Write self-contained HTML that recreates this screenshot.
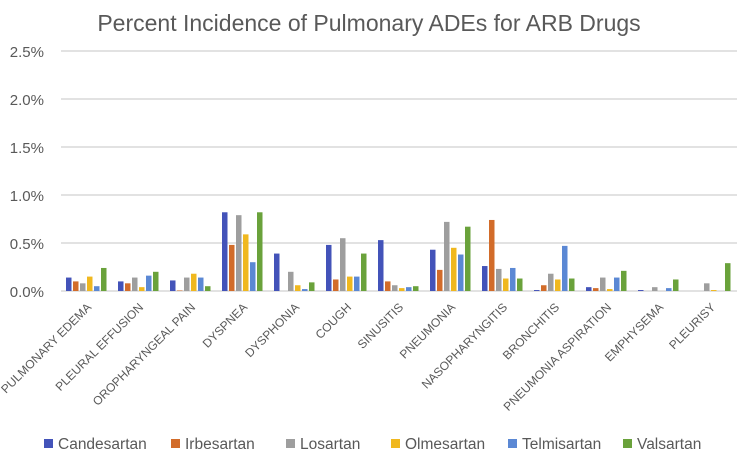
<!DOCTYPE html>
<html><head><meta charset="utf-8"><style>
body{margin:0;background:#fff;font-family:"Liberation Sans",sans-serif}
svg{display:block}
</style></head><body>
<svg id="c" width="738" height="451" xmlns="http://www.w3.org/2000/svg">
<text x="369" y="31" text-anchor="middle" font-size="23" fill="#595959">Percent Incidence of Pulmonary ADEs for ARB Drugs</text>
<g id="grid"></g><g id="bars"></g><g id="xl"></g><g id="leg"></g>
</svg>
<script>
const categories=["PULMONARY EDEMA","PLEURAL EFFUSION","OROPHARYNGEAL PAIN","DYSPNEA","DYSPHONIA","COUGH","SINUSITIS","PNEUMONIA","NASOPHARYNGITIS","BRONCHITIS","PNEUMONIA ASPIRATION","EMPHYSEMA","PLEURISY"];
const seriesNames=["Candesartan","Irbesartan","Losartan","Olmesartan","Telmisartan","Valsartan"];
const candesartan=[0.14,0.10,0.11,0.82,0.39,0.48,0.53,0.43,0.26,0.01,0.04,0.01,0];
const irbesartan=[0.10,0.08,0.005,0.48,0,0.12,0.10,0.22,0.74,0.06,0.03,0,0];
const losartan=[0.08,0.14,0.14,0.79,0.20,0.55,0.06,0.72,0.23,0.18,0.14,0.04,0.08];
const olmesartan=[0.15,0.04,0.18,0.59,0.06,0.15,0.03,0.45,0.13,0.12,0.02,0,0.01];
const telmisartan=[0.05,0.16,0.14,0.30,0.02,0.15,0.04,0.38,0.24,0.47,0.14,0.03,0];
const valsartan=[0.24,0.20,0.05,0.82,0.09,0.39,0.05,0.67,0.13,0.13,0.21,0.12,0.29];
const yTicks=[0,0.5,1.0,1.5,2.0,2.5];
const yTickLabels=["0.0%","0.5%","1.0%","1.5%","2.0%","2.5%"];
const series=[candesartan,irbesartan,losartan,olmesartan,telmisartan,valsartan];
const colors=["#4353b9","#d26c2a","#9e9e9e","#f0b81f","#5b88d4","#6aa23b"];
const NS="http://www.w3.org/2000/svg";
const L=61,R=737,T=51,B=291;
const y=v=>B-(v/2.5)*(B-T);
const bw=(R-L)/categories.length;
const x=i=>L+bw*i+bw/2;
function mk(t,a,p){const e=document.createElementNS(NS,t);for(const k in a)e.setAttribute(k,a[k]);p.appendChild(e);return e;}
const g=document.getElementById('grid');
yTicks.forEach((v,i)=>{
 const ln=mk('line',{x1:L,x2:R,y1:y(v),y2:y(v),stroke:'#d9d9d9','stroke-width':1.5},g);
 
 
 const t=mk('text',{x:44,y:y(v)+6,'text-anchor':'end','font-size':15,fill:'#595959'},g);
 t.textContent=yTickLabels[i];
 
 
});
const bg=document.getElementById('bars');
series.forEach((s,j)=>s.forEach((v,i)=>{
 const r=mk('rect',{x:x(i)-21+j*7,y:y(v),width:5.5,height:Math.max(0,B-y(v)),fill:colors[j]},bg);
 
 
}));
const xl=document.getElementById('xl');
categories.forEach((c,i)=>{
 const t=mk('text',{transform:`translate(${x(i)+5},${B+17}) rotate(-45)`,'text-anchor':'end','font-size':12,fill:'#595959'},xl);
 t.textContent=c;
 
 
});
const lg=document.getElementById('leg');
const lx=[44,171,286,391,508,623];
seriesNames.forEach((n,j)=>{
 const gg=mk('g',{},lg);
 
 
 mk('rect',{x:lx[j],y:439,width:9,height:9,fill:colors[j]},gg);
 const t=mk('text',{x:lx[j]+14,y:449,'font-size':15.5,fill:'#595959'},gg);
 t.textContent=n;
});
</script>
</body></html>
